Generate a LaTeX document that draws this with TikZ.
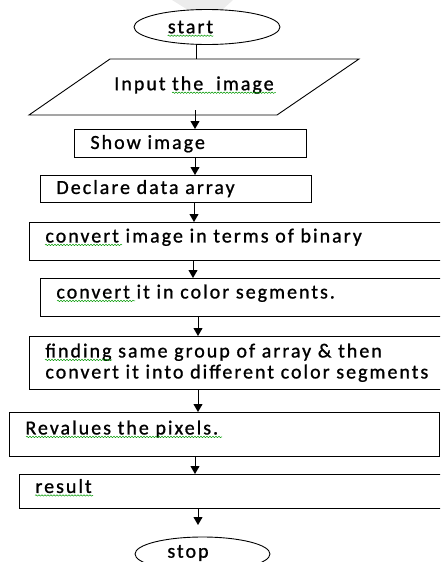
\documentclass[tikz,border=0pt]{standalone}
\usepackage{fontspec}
\setmainfont{Carlito}[LetterSpace=10,FakeBold=1]
\usetikzlibrary{arrows.meta,decorations.pathmorphing,shapes.geometric}
\begin{document}
\begin{tikzpicture}[x=1pt,y=-1pt,
  ln/.style={line width=0.9pt},
  arr/.style={ln,-{Triangle[length=8pt,width=9pt]}},
  txt/.style={font=\fontsize{20}{21}\selectfont, inner sep=0pt},
  terminal/.style={ellipse, draw, ln, fill=white},
  box/.style={draw, ln, anchor=north west, inner xsep=16pt, inner ysep=0pt,
    align=left, text width=#1, font=\fontsize{20}{21}\selectfont},
  squig/.style={draw=green!60!black, line width=0.5pt,
    decorate, decoration={snake, amplitude=0.7pt, segment length=3pt}}]
\useasboundingbox (0,0) rectangle (440,562);
\clip (0,0) rectangle (440,562);
% watermark
\fill[gray!15] (172,0) -- (233,0) -- (222,10) -- (188,10) -- cycle;
% start
\node[terminal, minimum width=146pt, minimum height=35pt] (start) at (207,27) {};
\node[txt] (starttext) at (190.5,27) {start};
% input parallelogram
\draw[ln] (110,59) -- (359,59) -- (277,115) -- (29,115) -- cycle;
\node[txt] (input) at (194,85) {Input the\ \ image};
\coordinate (intop) at (196,59);
\coordinate (inbot) at (195,110);
% boxes
\node[box=200pt, minimum height=28pt, text height=12pt, text depth=1pt] (show) at (74,129) {Show image};
\node[box=239pt, minimum height=27pt, text height=12pt, text depth=2pt] (declare) at (40,175) {Declare data array};
\node[box=389pt, minimum height=38pt, text height=8pt, text depth=6pt] (binary) at (29,222) {convert image in terms of binary};
\node[box=378pt, minimum height=38pt, text height=8pt, text depth=6pt] (color) at (40,278) {convert it in color segments.};
\node[box=389pt, minimum height=53pt, text height=14pt, text depth=25pt] (finding) at (29,336) {finding same group of array \& then\\convert it into different color segments};
\node[box=398pt, minimum height=44pt, text height=7pt, text depth=7pt] (reval) at (9,412) {Revalues the pixels.};
\node[box=399pt, minimum height=34pt, text height=8pt, text depth=5pt] (result) at (19,474) {result};
% stop
\node[terminal, minimum width=135pt, minimum height=34pt] (stop) at (202.5,554) {};
\node[txt] (stoptext) at (188,553) {stop};
\coordinate (stopin) at (198,525);
% spelling squiggles
\path[squig] ([yshift=-2.5pt]starttext.base west) -- ([yshift=-2.5pt]starttext.base east);
\path[squig] ([shift={(58,2.5)}]input.base west) -- ([shift={(2,2.5)}]input.base east);
\path[squig] ([shift={(16,2.5)}]binary.base west) -- ([shift={(93,2.5)}]binary.base west);
\path[squig] ([shift={(17,2.5)}]color.base west) -- ([shift={(95,2.5)}]color.base west);
\path[squig] ([shift={(16,2.5)}]finding.base west) -- ([shift={(83,2.5)}]finding.base west);
\path[squig] ([shift={(17,2.5)}]reval.base west) -- ([shift={(213,2.5)}]reval.base west);
\path[squig] ([shift={(16,2.5)}]result.base west) -- ([shift={(74,2.5)}]result.base west);
% connectors
\draw[ln] (intop |- start.south) -- (intop);
\draw[arr] (inbot) -- (inbot |- show.north);
\coordinate (c2) at (195,0);
\draw[arr] (c2 |- show.south) -- (c2 |- declare.north);
\coordinate (c3) at (194,0);
\draw[arr] (c3 |- declare.south) -- (c3 |- binary.north);
\coordinate (c4) at (193,0);
\draw[arr] (c4 |- binary.south) -- (c4 |- color.north);
\coordinate (c5) at (198,0);
\draw[arr] (c5 |- color.south) -- (c5 |- finding.north);
\draw[arr] (c5 |- finding.south) -- (c5 |- reval.north);
\coordinate (c7) at (195,0);
\draw[arr] (c7 |- reval.south) -- (c7 |- result.north);
\draw[arr] (stopin |- result.south) -- (stopin);
\end{tikzpicture}
\end{document}
